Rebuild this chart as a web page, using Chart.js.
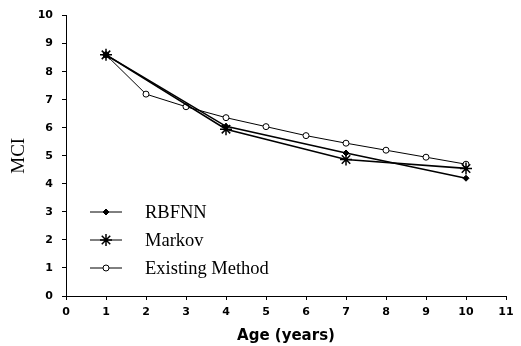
<!DOCTYPE html>
<html>
<head>
<meta charset="utf-8">
<script src="https://cdn.jsdelivr.net/npm/chart.js@4/dist/chart.umd.min.js"></script>
<style>
  html, body { margin: 0; padding: 0; background: #fff; }
  #mciChart { display: block; }
</style>
</head>
<body>
<canvas id="mciChart" width="521" height="346"></canvas>
<script>
// ages and MCI values per method
const rbfnnAges = [1, 4, 7, 10];
const rbfnnMci = [8.6, 6.05, 5.1, 4.2];

const markovAges = [1, 4, 7, 10];
const markovMci = [8.6, 5.95, 4.87, 4.55];

const existingAges = [1, 2, 3, 4, 5, 6, 7, 8, 9, 10];
const existingMci = [8.6, 7.2, 6.75, 6.36, 6.04, 5.72, 5.45, 5.2, 4.95, 4.7];

const seriesLabels = ['RBFNN', 'Markov', 'Existing Method'];

function toPoints(xs, ys) {
    return xs.map((x, i) => ({ x: x, y: ys[i] }));
}

// legend drawn inside the plot, lower left
const insideLegend = {
    id: 'insideLegend',
    afterDatasetsDraw(chart) {
        const c = chart.ctx;
        const rows = [212, 240, 268];
        c.save();
        chart.data.datasets.forEach((ds, i) => {
            const y = rows[i];
            c.strokeStyle = '#000';
            c.lineWidth = 1;
            c.beginPath();
            c.moveTo(90, y);
            c.lineTo(122, y);
            c.stroke();
            c.fillStyle = ds.pointBackgroundColor;
            c.strokeStyle = '#000';
            c.lineWidth = ds.pointBorderWidth;
            Chart.helpers.drawPoint(c, {
                pointStyle: ds.pointStyle,
                radius: ds.pointRadius,
                rotation: 0,
                borderWidth: ds.pointBorderWidth
            }, 106, y);
            c.fillStyle = '#000';
            c.font = '18.5px "Liberation Serif", "Times New Roman", serif';
            c.textBaseline = 'middle';
            c.fillText(ds.label, 145, y + 1);
        });
        c.restore();
    }
};

const ctx = document.getElementById('mciChart');

const tickFont = { family: '"DejaVu Sans", Verdana, sans-serif', size: 11, weight: 'bold' };

const mciChart = new Chart(ctx, {
    type: 'scatter',
    data: {
        datasets: [{
            label: seriesLabels[0],
            data: toPoints(rbfnnAges, rbfnnMci),
            showLine: true,
            borderColor: '#000',
            borderWidth: 1.6,
            pointStyle: 'rectRot',
            pointRadius: 3,
            pointBackgroundColor: '#000',
            pointBorderColor: '#000',
            pointBorderWidth: 1
        }, {
            label: seriesLabels[1],
            data: toPoints(markovAges, markovMci),
            showLine: true,
            borderColor: '#000',
            borderWidth: 1.6,
            pointStyle: 'star',
            pointRadius: 6,
            pointBackgroundColor: '#000',
            pointBorderColor: '#000',
            pointBorderWidth: 1.5
        }, {
            label: seriesLabels[2],
            data: toPoints(existingAges, existingMci),
            showLine: true,
            borderColor: '#000',
            borderWidth: 1,
            pointStyle: 'circle',
            pointRadius: 3,
            pointBackgroundColor: '#fff',
            pointBorderColor: '#000',
            pointBorderWidth: 1
        }]
    },
    options: {
        responsive: false,
        animation: false,
        layout: {
            padding: { top: 13, right: 15, left: 0, bottom: 0 }
        },
        scales: {
            x: {
                min: 0,
                max: 11,
                afterFit(scale) { scale.height = 50; },
                ticks: { stepSize: 1, color: '#000', padding: 6, font: tickFont },
                grid: { drawOnChartArea: false, drawTicks: true, tickLength: 4, color: '#000' },
                border: { display: true, color: '#000', width: 1 },
                title: {
                    display: true,
                    text: 'Age (years)',
                    color: '#000',
                    padding: { top: 2, bottom: 1 },
                    font: { family: '"DejaVu Sans", Verdana, sans-serif', size: 15, weight: 'bold' }
                }
            },
            y: {
                min: 0,
                max: 10,
                afterFit(scale) { scale.width = 66; },
                ticks: { stepSize: 1, color: '#000', padding: 9, font: tickFont },
                grid: { drawOnChartArea: false, drawTicks: true, tickLength: 4, color: '#000' },
                border: { display: true, color: '#000', width: 1 },
                title: {
                    display: true,
                    text: 'MCI',
                    color: '#000',
                    padding: { top: 8, bottom: 0 },
                    font: { family: '"Liberation Serif", "Times New Roman", serif', size: 19 }
                }
            }
        },
        plugins: {
            legend: { display: false },
            tooltip: { enabled: false }
        }
    },
    plugins: [insideLegend]
});
</script>
</body>
</html>
